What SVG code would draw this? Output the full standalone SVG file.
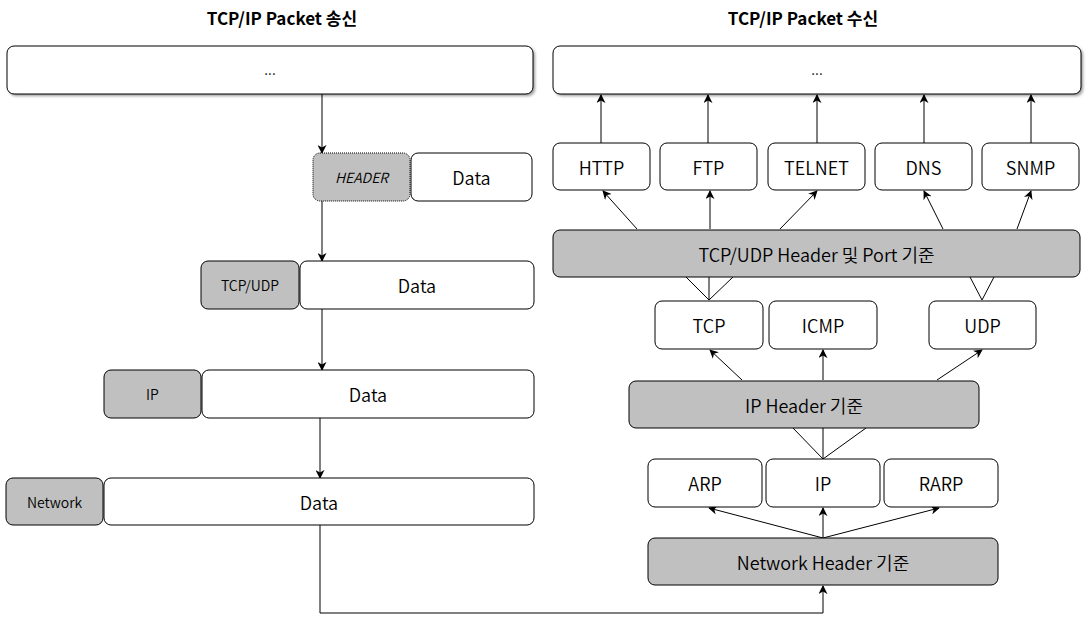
<svg xmlns="http://www.w3.org/2000/svg" width="1088" height="618" viewBox="0 0 1088 618">
<defs>
<style>
.box{fill:#fff;stroke:#000;stroke-width:1}
.gray{fill:#c0c0c0;stroke:#000;stroke-width:1}
text{font-family:"Noto Sans CJK KR","Open Sans",sans-serif;text-anchor:middle;dominant-baseline:central;fill:#000;font-weight:350}
.t18{font-size:18px}
.t14{font-size:14px}
.title{font-size:17px;font-weight:bold}
.ln{fill:none;stroke:#000;stroke-width:1}
.ar{fill:none;stroke:#000;stroke-width:1;marker-end:url(#ah)}
</style>
<marker id="ah" viewBox="0 0 10 10" refX="9" refY="5" markerWidth="9" markerHeight="9" markerUnits="userSpaceOnUse" orient="auto">
<path d="M0,0 L10,5 L0,10 L3,5 Z" fill="#000"/>
</marker>
<filter id="sh" x="-5%" y="-20%" width="110%" height="150%">
<feGaussianBlur stdDeviation="1.5"/>
</filter>
</defs>
<rect width="1088" height="618" fill="#fff"/>
<text class="title" x="282" y="17">TCP/IP Packet 송신</text>
<text class="title" x="803" y="17">TCP/IP Packet 수신</text>

<g id="connectors">
<path class="ar" d="M322,94 V153"/>
<path class="ar" d="M322,201 V261"/>
<path class="ar" d="M322,309 V370"/>
<path class="ar" d="M320,418 V478"/>
<path class="ar" d="M320,525 V613 H823 V586"/>
<path class="ar" d="M601,143 V95"/>
<path class="ar" d="M708,143 V95"/>
<path class="ar" d="M817,143 V95"/>
<path class="ar" d="M924,143 V95"/>
<path class="ar" d="M1031,143 V95"/>
<path class="ar" d="M637,229 L603,191"/>
<path class="ar" d="M710,229 V191"/>
<path class="ar" d="M780,229 L817,191"/>
<path class="ar" d="M943,229 L924,191"/>
<path class="ar" d="M1017,229 L1031,191"/>
<path class="ln" d="M686,277 L709,300 L733,277 M709,277 V300"/>
<path class="ln" d="M970,277 L982,300 L994,277"/>
<path class="ar" d="M742,380 L710,350"/>
<path class="ar" d="M823,380 V350"/>
<path class="ar" d="M937,380 L982,350"/>
<path class="ln" d="M793,428 L823,459 L866,428 M823,428 V459"/>
<path class="ar" d="M823,538 L709,508"/>
<path class="ar" d="M823,538 V508"/>
<path class="ar" d="M823,538 L939,508"/>
</g>

<g id="send-top">
<rect x="9" y="48" width="526" height="48" rx="7" fill="#000" opacity="0.4" filter="url(#sh)"/>
<rect class="box" x="7" y="46" width="526" height="48" rx="7"/>
<text class="t14" x="270" y="69">...</text>
</g>
<g id="send-header">
<rect x="313" y="153" width="97" height="48" rx="7" fill="#c0c0c0" stroke="#000" stroke-dasharray="1 1"/>
<text class="t14" x="361.5" y="177" font-style="italic">HEADER</text>
</g>
<g id="send-data1">
<rect class="box" x="411" y="153" width="121" height="48" rx="7"/>
<text class="t18" x="471.5" y="177">Data</text>
</g>
<g id="send-tcpudp">
<rect class="gray" x="201" y="261" width="98" height="48" rx="7"/>
<text class="t14" x="250" y="285">TCP/UDP</text>
</g>
<g id="send-data2">
<rect class="box" x="300" y="261" width="234" height="48" rx="7"/>
<text class="t18" x="417" y="285">Data</text>
</g>
<g id="send-ip">
<rect class="gray" x="104" y="370" width="97" height="48" rx="7"/>
<text class="t14" x="152.5" y="394">IP</text>
</g>
<g id="send-data3">
<rect class="box" x="202" y="370" width="332" height="48" rx="7"/>
<text class="t18" x="368" y="394">Data</text>
</g>
<g id="send-network">
<rect class="gray" x="6" y="478" width="97" height="47" rx="7"/>
<text class="t14" x="54.5" y="501.5">Network</text>
</g>
<g id="send-data4">
<rect class="box" x="104" y="478" width="430" height="47" rx="7"/>
<text class="t18" x="319" y="501.5">Data</text>
</g>

<g id="recv-top">
<rect x="555" y="48" width="528" height="48" rx="7" fill="#000" opacity="0.4" filter="url(#sh)"/>
<rect class="box" x="553" y="46" width="528" height="48" rx="7"/>
<text class="t14" x="817" y="69">...</text>
</g>
<g id="http"><rect class="box" x="553" y="143" width="97" height="47" rx="7"/><text class="t18" x="601.5" y="166.5">HTTP</text></g>
<g id="ftp"><rect class="box" x="660" y="143" width="97" height="47" rx="7"/><text class="t18" x="708.5" y="166.5">FTP</text></g>
<g id="telnet"><rect class="box" x="768" y="143" width="97" height="47" rx="7"/><text class="t18" x="816.5" y="166.5">TELNET</text></g>
<g id="dns"><rect class="box" x="875" y="143" width="97" height="47" rx="7"/><text class="t18" x="923.5" y="166.5">DNS</text></g>
<g id="snmp"><rect class="box" x="982" y="143" width="97" height="47" rx="7"/><text class="t18" x="1030.5" y="166.5">SNMP</text></g>
<g id="tcpudp-header"><rect class="gray" x="553" y="230" width="527" height="47" rx="7"/><text class="t18" x="816.5" y="253.5">TCP/UDP Header 및 Port 기준</text></g>
<g id="tcp"><rect class="box" x="655" y="301" width="108" height="48" rx="7"/><text class="t18" x="709" y="325">TCP</text></g>
<g id="icmp"><rect class="box" x="769" y="301" width="108" height="48" rx="7"/><text class="t18" x="823" y="325">ICMP</text></g>
<g id="udp"><rect class="box" x="929" y="301" width="107" height="48" rx="7"/><text class="t18" x="982.5" y="325">UDP</text></g>
<g id="ip-header"><rect class="gray" x="629" y="381" width="350" height="47" rx="7"/><text class="t18" x="804" y="404.5">IP Header 기준</text></g>
<g id="arp"><rect class="box" x="648" y="459" width="114" height="48" rx="7"/><text class="t18" x="705" y="483">ARP</text></g>
<g id="ip"><rect class="box" x="766" y="459" width="114" height="48" rx="7"/><text class="t18" x="823" y="483">IP</text></g>
<g id="rarp"><rect class="box" x="884" y="459" width="114" height="48" rx="7"/><text class="t18" x="941" y="483">RARP</text></g>
<g id="network-header"><rect class="gray" x="648" y="538" width="350" height="47" rx="7"/><text class="t18" x="823" y="561.5">Network Header 기준</text></g>
</svg>
